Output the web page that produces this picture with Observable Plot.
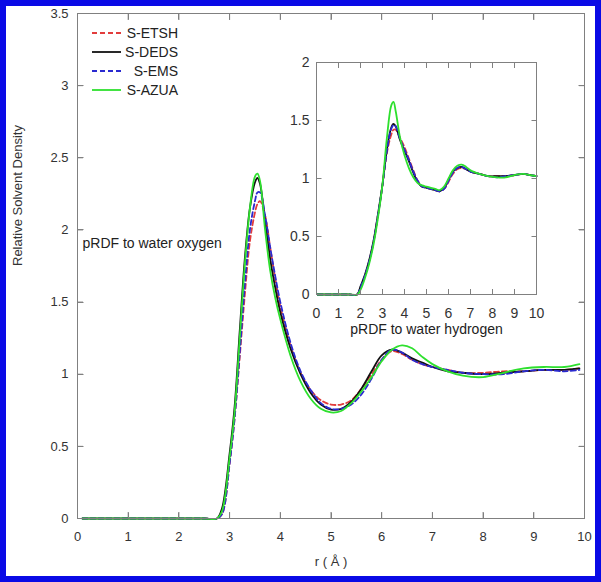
<!DOCTYPE html>
<html><head><meta charset="utf-8">
<script src="https://cdn.jsdelivr.net/npm/d3@7"></script>
<script src="https://cdn.jsdelivr.net/npm/@observablehq/plot@0.6"></script>
<style>
html,body{margin:0;padding:0;background:#fff;}
body{position:relative;width:601px;height:582px;font-family:"Liberation Sans",Arial,sans-serif;}
.cell{display:inline-block;vertical-align:top;}
#border{position:absolute;left:0;top:0;width:601px;height:582px;box-sizing:border-box;border:6px solid #0a0ae6;pointer-events:none;}
</style></head><body><script>
// ---- series ----
const seriesNames = ["S-ETSH", "S-DEDS", "S-EMS", "S-AZUA"];
const seriesColors = ["#e23c3c", "#111111", "#2a2ad0", "#2ee02e"];
const seriesDash = ["5,3", null, "5,3", null];

// ---- main panel: pRDF to water oxygen ----
const rMain = [0.1, 0.5, 1.0, 1.5, 2.0, 2.5, 2.75, 2.85, 3.0, 3.1, 3.2, 3.3, 3.4, 3.5, 3.55, 3.6, 3.7, 3.8, 3.9, 4.0, 4.2, 4.4, 4.6, 4.8, 5.0, 5.2, 5.4, 5.6, 5.8, 6.0, 6.2, 6.4, 6.6, 6.8, 7.0, 7.3, 7.6, 8.0, 8.4, 8.8, 9.2, 9.6, 9.9];
const mainETSH = [0,0,0,0,0,0,0, 0.03,0.38,0.70,1.12,1.55,1.92,2.12,2.18,2.20,2.10,1.88,1.66,1.47,1.20,1.01,0.89,0.82,0.79,0.79,0.82,0.90,1.00,1.10,1.16,1.14,1.10,1.07,1.05,1.03,1.01,1.01,1.02,1.02,1.03,1.03,1.04];
const mainDEDS = [0,0,0,0,0,0,0, 0.07,0.45,0.78,1.30,1.80,2.15,2.33,2.36,2.32,2.06,1.80,1.60,1.43,1.18,1.00,0.87,0.79,0.755,0.76,0.81,0.90,1.02,1.13,1.17,1.15,1.11,1.08,1.05,1.02,1.01,1.00,1.01,1.02,1.03,1.03,1.04];
const mainEMS  = [0,0,0,0,0,0,0, 0.03,0.38,0.70,1.15,1.62,2.00,2.20,2.26,2.26,2.10,1.88,1.68,1.50,1.22,1.02,0.89,0.80,0.76,0.76,0.79,0.86,0.97,1.10,1.17,1.15,1.10,1.07,1.05,1.03,1.01,1.00,1.00,1.02,1.03,1.02,1.03];
const mainAZUA = [0,0,0,0,0,0,0, 0.05,0.42,0.74,1.25,1.76,2.15,2.37,2.39,2.34,2.00,1.72,1.53,1.38,1.13,0.95,0.83,0.76,0.735,0.745,0.80,0.88,0.98,1.09,1.17,1.20,1.18,1.12,1.07,1.02,0.99,0.98,1.01,1.04,1.05,1.05,1.07];
const mainXTicks = [0,1,2,3,4,5,6,7,8,9,10];
const mainYTicks = [0,0.5,1,1.5,2,2.5,3,3.5];

// ---- inset: pRDF to water hydrogen ----
const rInset = [0.05, 0.5, 1.0, 1.5, 1.85, 2.0, 2.2, 2.4, 2.6, 2.8, 3.0, 3.2, 3.4, 3.5, 3.6, 3.8, 4.0, 4.2, 4.4, 4.6, 4.8, 5.0, 5.2, 5.4, 5.6, 5.8, 6.0, 6.2, 6.4, 6.6, 6.8, 7.0, 7.4, 7.8, 8.2, 8.6, 9.0, 9.4, 9.7, 10.0];
const insetETSH = [0,0,0,0,0, 0.06,0.16,0.29,0.46,0.69,0.94,1.22,1.38,1.42,1.42,1.35,1.27,1.17,1.07,0.98,0.93,0.92,0.91,0.90,0.89,0.91,0.97,1.04,1.08,1.09,1.08,1.06,1.04,1.02,1.02,1.02,1.03,1.04,1.03,1.02];
const insetDEDS = [0,0,0,0,0, 0.07,0.17,0.30,0.47,0.70,0.95,1.25,1.44,1.47,1.45,1.33,1.24,1.15,1.05,0.97,0.93,0.92,0.91,0.90,0.89,0.92,0.99,1.06,1.09,1.10,1.08,1.06,1.04,1.02,1.02,1.02,1.03,1.04,1.03,1.02];
const insetEMS  = [0,0,0,0,0, 0.06,0.16,0.29,0.46,0.69,0.94,1.24,1.43,1.46,1.45,1.34,1.25,1.16,1.06,0.98,0.93,0.92,0.91,0.90,0.89,0.91,0.98,1.05,1.09,1.10,1.08,1.06,1.04,1.02,1.01,1.02,1.03,1.04,1.03,1.02];
const insetAZUA = [0,0,0,0,0, 0.04,0.14,0.27,0.44,0.67,0.95,1.35,1.63,1.66,1.58,1.35,1.20,1.09,1.01,0.96,0.94,0.93,0.92,0.91,0.90,0.93,1.00,1.07,1.11,1.12,1.10,1.07,1.04,1.02,1.01,1.01,1.03,1.04,1.03,1.02];
const insetXTicks = [0,1,2,3,4,5,6,7,8,9,10];
const insetYTicks = [0,0.5,1,1.5,2];

// ---- text ----
const xLabel = "r ( Å )";
const yLabel = "Relative Solvent Density";
const mainNote = "pRDF to water oxygen";
const insetNote = "pRDF to water hydrogen";

function longTable(r, arrays) {
  const rows = [];
  arrays.forEach((vals, i) => vals.forEach((v, j) => rows.push({series: seriesNames[i], idx: i, r: r[j], v})));
  return rows;
}
const mainData = longTable(rMain, [mainETSH, mainDEDS, mainEMS, mainAZUA]);
const insetData = longTable(rInset, [insetETSH, insetDEDS, insetEMS, insetAZUA]);

function curveMarks(data) {
  return seriesNames.map((name, i) => Plot.line(data.filter(d => d.idx === i), {
    x: "r", y: "v", stroke: seriesColors[i], strokeWidth: 1.8,
    strokeDasharray: seriesDash[i] || undefined, curve: "catmull-rom"
  }));
}

const fmt = d => String(d);
const axisGray = "#808080";

function frameAxes(xt, yt, tick, xPad, yPad) {
  return [
    Plot.frame({stroke: axisGray, strokeWidth: 1}),
    Plot.axisX(xt, {anchor: "bottom", tickSize: tick, dy: -tick, fill: "none", stroke: axisGray, label: null}),
    Plot.axisX(xt, {anchor: "top", tickSize: tick, dy: tick, fill: "none", stroke: axisGray, label: null}),
    Plot.axisY(yt, {anchor: "left", tickSize: tick, dx: tick, fill: "none", stroke: axisGray, label: null}),
    Plot.axisY(yt, {anchor: "right", tickSize: tick, dx: -tick, fill: "none", stroke: axisGray, label: null}),
    Plot.axisX(xt, {anchor: "bottom", tickSize: 0, tickPadding: xPad, stroke: "none", fill: "#333", tickFormat: fmt, label: null}),
    Plot.axisY(yt, {anchor: "left", tickSize: 0, tickPadding: yPad, stroke: "none", fill: "#333", tickFormat: fmt, label: null})
  ];
}

const main = Plot.plot({
  width: 601, height: 582,
  marginLeft: 77, marginRight: 17, marginTop: 13, marginBottom: 64,
  x: {domain: [0, 10]},
  y: {domain: [0, 3.5]},
  style: {background: "transparent", fontFamily: "'Liberation Sans', Arial, sans-serif", fontSize: "13px", color: "#333"},
  marks: [
    ...frameAxes(mainXTicks, mainYTicks, 6, 13, 9),
    ...curveMarks(mainData),
    Plot.text([xLabel], {frameAnchor: "bottom", dy: 47, text: d => d, fontSize: 13, fill: "#333"}),
    Plot.text([yLabel], {frameAnchor: "left", dx: -60, rotate: -90, text: d => d, fontSize: 13, fill: "#333"}),
    Plot.text([mainNote], {frameAnchor: "left", dx: 5, dy: -22, textAnchor: "start", text: d => d, fontSize: 14, fill: "#222"})
  ]
});

const inset = Plot.plot({
  width: 270, height: 310,
  marginLeft: 36, marginRight: 14, marginTop: 22, marginBottom: 56,
  x: {domain: [0, 10]},
  y: {domain: [0, 2]},
  style: {background: "transparent", fontFamily: "'Liberation Sans', Arial, sans-serif", fontSize: "14px", color: "#333"},
  marks: [
    ...frameAxes(insetXTicks, insetYTicks, 5, 14, 7),
    ...curveMarks(insetData),
    Plot.text([insetNote], {frameAnchor: "bottom", dy: 39, text: d => d, fontSize: 14, fill: "#222"})
  ]
});

const cell = document.createElement("div"); cell.className = "cell";
cell.appendChild(main);
document.body.appendChild(cell);

const insetLeft = 280, insetTop = 40;
const insetBox = document.createElement("div");
insetBox.style.position = "absolute"; insetBox.style.left = insetLeft + "px"; insetBox.style.top = insetTop + "px";
insetBox.appendChild(inset);
document.body.appendChild(insetBox);

// frame + inward ticks overlay, positioned with Plot's own scales
try {
  const ov = d3.create("svg").attr("width", 601).attr("height", 582)
    .style("position", "absolute").style("left", "0px").style("top", "0px").style("pointer-events", "none");
  const drawBox = (plot, xt, yt, tick, ox, oy) => {
    const sx = plot.scale("x"), sy = plot.scale("y");
    const px = v => Math.round(sx.apply(v) + ox) + 0.5;
    const py = v => Math.round(sy.apply(v) + oy) + 0.5;
    const xa = px(xt[0]), xb = px(xt[xt.length - 1]);
    const ya = py(yt[0]), yb = py(yt[yt.length - 1]);
    const g = ov.append("g").attr("stroke", axisGray).attr("stroke-width", 1).attr("fill", "none");
    g.append("rect").attr("x", xa).attr("y", yb).attr("width", xb - xa).attr("height", ya - yb);
    xt.forEach(v => {
      const x = px(v);
      g.append("line").attr("x1", x).attr("x2", x).attr("y1", ya).attr("y2", ya - tick);
      g.append("line").attr("x1", x).attr("x2", x).attr("y1", yb).attr("y2", yb + tick);
    });
    yt.forEach(v => {
      const y = py(v);
      g.append("line").attr("x1", xa).attr("x2", xa + tick).attr("y1", y).attr("y2", y);
      g.append("line").attr("x1", xb).attr("x2", xb - tick).attr("y1", y).attr("y2", y);
    });
  };
  drawBox(main, mainXTicks, mainYTicks, 6, 0, 0);
  drawBox(inset, insetXTicks, insetYTicks, 5, insetLeft, insetTop);
  document.body.appendChild(ov.node());
} catch (e) { /* keep the rest of the chart */ }

// legend overlay
const leg = d3.create("svg").attr("width", 200).attr("height", 110)
  .style("position", "absolute").style("left", "0px").style("top", "0px")
  .style("font-family", "'Liberation Sans', Arial, sans-serif").style("font-size", "14px");
seriesNames.forEach((name, i) => {
  const y = 33 + i * 19;
  leg.append("line").attr("x1", 92).attr("x2", 121).attr("y1", y).attr("y2", y)
    .attr("stroke", seriesColors[i]).attr("stroke-width", 1.8)
    .attr("stroke-dasharray", seriesDash[i] || null);
  leg.append("text").attr("x", 178).attr("y", y).attr("dy", "0.35em")
    .attr("text-anchor", "end").attr("fill", "#222").text(name);
});
document.body.appendChild(leg.node());
const b = document.createElement("div"); b.id = "border"; document.body.appendChild(b);
</script></body></html>
